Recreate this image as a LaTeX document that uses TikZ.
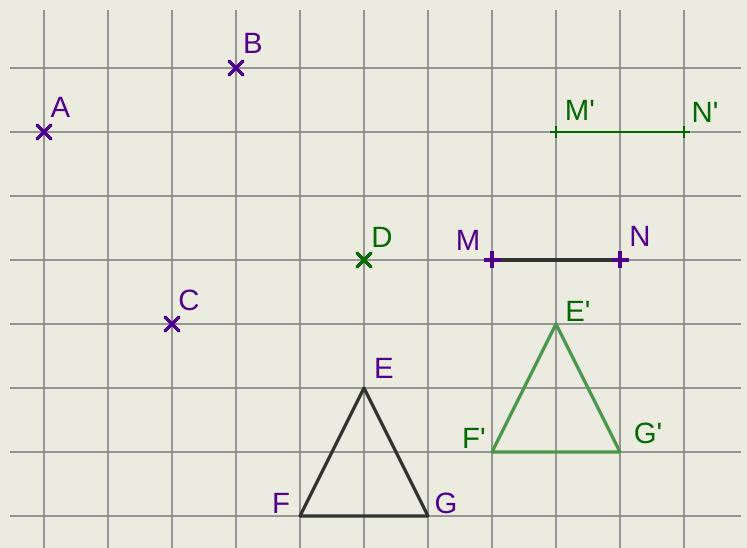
\documentclass[tikz,border=0pt]{standalone}
\usepackage{fontspec}
\setmainfont{Liberation Sans}
\definecolor{bg}{RGB}{236,235,223}
\definecolor{gridc}{RGB}{150,150,150}
\definecolor{purp}{RGB}{80,0,140}
\definecolor{dgreen}{RGB}{0,105,0}
\definecolor{lgreen}{RGB}{76,150,76}
\definecolor{dark}{RGB}{50,50,50}
\tikzset{
  gridline/.style={gridc, line width=1.3pt},
  lbl/.style={font=\fontsize{22}{22}\selectfont, inner sep=0pt},
  crossmark/.style={line width=2.4pt, line cap=round},
  plusmark/.style={line width=2.4pt},
  smallplus/.style={line width=1.5pt},
  seg/.style={line width=2.4pt, line join=round},
}
\newcommand{\xmark}[2]{\draw[crossmark,#2] ([shift={(-7,-7)}]#1) -- ([shift={(7,7)}]#1) ([shift={(-7,7)}]#1) -- ([shift={(7,-7)}]#1);}
\newcommand{\pmark}[3]{\draw[#3] ([shift={(-#2,0)}]#1) -- ([shift={(#2,0)}]#1) ([shift={(0,-#2)}]#1) -- ([shift={(0,#2)}]#1);}
\begin{document}
\begin{tikzpicture}[x=0.75pt,y=-0.75pt]
\fill[bg] (0,0) rectangle (747,548);
\useasboundingbox (0,0) rectangle (747,548);
% grid
\foreach \gx in {44,108,...,684} {\draw[gridline] (\gx,10) -- (\gx,548);}
\foreach \gy in {68,132,...,516} {\draw[gridline] (10,\gy) -- (741,\gy);}
% points
\coordinate (A) at (44,132);
\coordinate (B) at (236,68);
\coordinate (C) at (172,324);
\coordinate (D) at (364,260);
\coordinate (M) at (492,260);
\coordinate (N) at (620,260);
\coordinate (Mp) at (556,132);
\coordinate (Np) at (684,132);
\coordinate (E) at (364,388);
\coordinate (F) at (300,516);
\coordinate (G) at (428,516);
\coordinate (Ep) at (556,324);
\coordinate (Fp) at (492,452);
\coordinate (Gp) at (620,452);
% segments and triangles
\draw[seg, dark] (M) -- (N);
\draw[seg, dgreen, line width=1.8pt] (Mp) -- (Np);
\draw[seg, dark] (E) -- (F) -- (G) -- cycle;
\draw[seg, lgreen] (Ep) -- (Fp) -- (Gp) -- cycle;
% marks
\xmark{A}{purp}
\xmark{B}{purp}
\xmark{C}{purp}
\xmark{D}{dgreen}
\pmark{M}{8.5}{plusmark,purp}
\pmark{N}{8.5}{plusmark,purp}
\pmark{Mp}{6}{smallplus,dgreen}
\pmark{Np}{6}{smallplus,dgreen}
% labels
\node[lbl, purp] (lA) at (60.5,107.5) {A};
\node[lbl, purp] (lB) at (253,43) {B};
\node[lbl, purp] (lC) at (189,300) {C};
\node[lbl, dgreen] (lD) at (382,237) {D};
\node[lbl, purp] (lM) at (468,240) {M};
\node[lbl, purp] (lN) at (640,236) {N};
\node[lbl, dgreen] (lMp) at (580,110) {M\textquotesingle};
\node[lbl, dgreen] (lNp) at (705,112) {N\textquotesingle};
\node[lbl, purp] (lE) at (384,368) {E};
\node[lbl, purp] (lF) at (281,503) {F};
\node[lbl, purp] (lG) at (446,503) {G};
\node[lbl, dgreen] (lEp) at (578,311) {E\textquotesingle};
\node[lbl, dgreen] (lFp) at (474,438) {F\textquotesingle};
\node[lbl, dgreen] (lGp) at (648,433) {G\textquotesingle};
\end{tikzpicture}
\end{document}
